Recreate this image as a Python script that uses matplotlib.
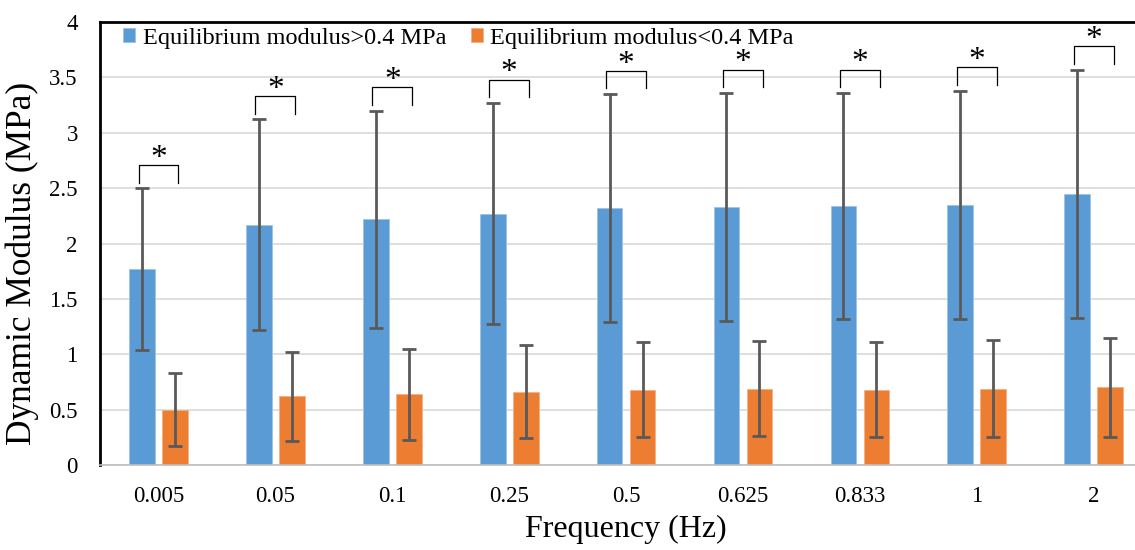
import numpy as np
import matplotlib
matplotlib.use("Agg")
import matplotlib.pyplot as plt

plt.rcParams["font.family"] = ["Liberation Serif", "DejaVu Serif"]

# dynamic modulus (MPa), mean and SD per test frequency
freqs = ["0.005", "0.05", "0.1", "0.25", "0.5", "0.625", "0.833", "1", "2"]
high_mean = [1.77, 2.17, 2.22, 2.27, 2.32, 2.33, 2.34, 2.35, 2.45]
high_sd = [0.73, 0.95, 0.98, 1.00, 1.03, 1.03, 1.02, 1.03, 1.12]
low_mean = [0.50, 0.62, 0.64, 0.66, 0.68, 0.69, 0.68, 0.69, 0.70]
low_sd = [0.33, 0.40, 0.41, 0.42, 0.43, 0.43, 0.43, 0.44, 0.45]
high_label = "Equilibrium modulus>0.4 MPa"
low_label = "Equilibrium modulus<0.4 MPa"

BLUE = "#5B9BD5"
ORANGE = "#ED7D31"
ERR = "#595959"

fig = plt.figure(figsize=(11.35, 5.5), dpi=100)
ax = fig.add_axes([0.0881, 0.1545, 0.927, 0.8055])

x = np.arange(len(freqs))
w = 0.22
off = 0.141

ax.bar(x - off, high_mean, w, color=BLUE, edgecolor="#9DC3E6", linewidth=0.6,
       label=high_label, zorder=2)
ax.bar(x + off, low_mean, w, color=ORANGE, edgecolor="#F4B183", linewidth=0.6,
       label=low_label, zorder=2)
ax.errorbar(x - off, high_mean, yerr=high_sd, fmt="none", ecolor=ERR,
            elinewidth=2, capsize=5, capthick=2, zorder=3)
ax.errorbar(x + off, low_mean, yerr=low_sd, fmt="none", ecolor=ERR,
            elinewidth=2, capsize=5, capthick=2, zorder=3)

# significance brackets above each pair
for i in range(len(freqs)):
    top = high_mean[i] + high_sd[i] + 0.21
    leg = top - 0.16
    ax.plot([i - 0.17, i - 0.17, i + 0.17, i + 0.17], [leg, top, top, leg],
            color="black", linewidth=0.9, solid_joinstyle="round", zorder=4)
    ax.text(i, top - 0.08, "*", ha="center", va="bottom", fontsize=24, zorder=4)

ax.set_xlim(-0.5, len(freqs) - 0.5)
ax.set_ylim(0, 4)
ax.set_yticks(np.arange(0, 4.01, 0.5))
ax.set_yticklabels(["0", "0.5", "1", "1.5", "2", "2.5", "3", "3.5", "4"])
ax.set_xticks(x)
ax.set_xticklabels(freqs)
ax.tick_params(axis="both", length=0, labelsize=16.5)
ax.tick_params(axis="y", pad=16)
ax.tick_params(axis="x", pad=15)

ax.grid(axis="y", color="#D9D9D9", linewidth=1.2, zorder=0)
ax.set_axisbelow(True)
ax.spines["right"].set_visible(False)
ax.spines["top"].set_color("black")
ax.spines["top"].set_linewidth(2)
ax.spines["left"].set_color("black")
ax.spines["left"].set_linewidth(2)
ax.spines["bottom"].set_color("#BFBFBF")
ax.spines["bottom"].set_linewidth(1.2)

ax.set_xlabel("Frequency (Hz)", fontsize=23, labelpad=6)
ax.set_ylabel("Dynamic Modulus (MPa)", fontsize=25.5, va="center")
ax.yaxis.set_label_coords(-0.074, 0.454)

ax.legend(loc="upper left", bbox_to_anchor=(0.006, 1.025), ncol=2, frameon=False,
          fontsize=17.5, handlelength=0.5, handleheight=0.5, handletextpad=0.3,
          columnspacing=1.0, borderaxespad=0.3)

fig.savefig("out.png", dpi=100)
